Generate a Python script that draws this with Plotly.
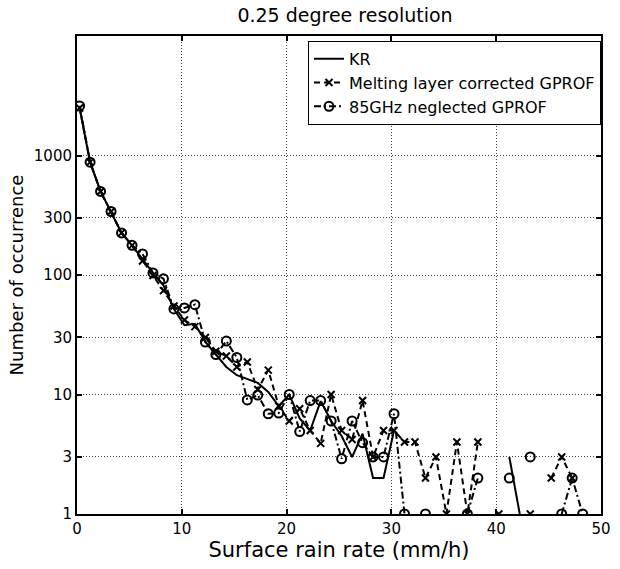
import plotly.graph_objects as go

# Surface rain rate bins (mm/h)
rain_rate = [0.25, 1.25, 2.25, 3.25, 4.25, 5.25, 6.25, 7.25, 8.25, 9.25,
             10.25, 11.25, 12.25, 13.25, 14.25, 15.25, 16.25, 17.25, 18.25, 19.25,
             20.25, 21.25, 22.25, 23.25, 24.25, 25.25, 26.25, 27.25, 28.25, 29.25,
             30.25, 31.25, 32.25, 33.25, 34.25, 35.25, 36.25, 37.25, 38.25, 39.25,
             40.25, 41.25, 42.25, 43.25, 44.25, 45.25, 46.25, 47.25, 48.25, 49.25]

kr = [2500, 880, 500, 340, 225, 177, 135, 104, 82, 52,
      38, 39, 27.5, 21.6, 17, 14.5, 13.5, 12.5, 10.5, 8,
      10, 6.3, 5, 8.8, 6, 4.5, 3, 4.7, 2, 2,
      5, None, None, None, None, None, None, None, None, None,
      None, 3, 1, None, None, None, None, None, None, None]

melting_corrected = [2500, 880, 500, 340, 225, 177, 131, 99, 74, 55,
                     42, 37, 30, 23, 21, 17, 18.7, 11, 16, 8,
                     6, 7.6, 5, 3.9, 10, 5, 4.2, 8.9, 3, 5,
                     5, 4, 4, 2, 3, 1, 4, 1, 4, None,
                     1, None, None, 1, None, 2, 3, 2, None, None]

ghz85_neglected = [2600, 880, 500, 340, 225, 177, 150, 104, 93, 52,
                   53, 56.5, 27.5, 21.6, 28, 20.4, 9, 9.9, 6.9, 7,
                   10, 4.9, 8.9, 8.9, 6, 2.9, 6, 3.95, 3, 3,
                   6.9, 1, None, 1, None, None, None, 1, 2, None,
                   None, 2, None, 3, None, None, 1, 2, 1, None]

y_tick_vals = [1, 3, 10, 30, 100, 300, 1000]
y_tick_text = ["1", "3", "10", "30", "100", "300", "1000"]
x_tick_vals = [0, 10, 20, 30, 40, 50]

FONT = "DejaVu Sans"

fig = go.Figure()
fig.add_trace(go.Scatter(
    x=rain_rate, y=kr, name="KR", mode="lines",
    line=dict(color="black", width=2), connectgaps=False))
fig.add_trace(go.Scatter(
    x=rain_rate, y=melting_corrected, name="Melting layer corrected GPROF",
    mode="lines+markers",
    line=dict(color="black", width=2, dash="6px,4px"),
    marker=dict(symbol="x-thin", size=7, color="black",
                line=dict(color="black", width=2)),
    connectgaps=False))
fig.add_trace(go.Scatter(
    x=rain_rate, y=ghz85_neglected, name="85GHz neglected GPROF",
    mode="lines+markers",
    line=dict(color="black", width=2, dash="7px,3px,2px,3px"),
    marker=dict(symbol="circle-open", size=9, color="black",
                line=dict(color="black", width=2)),
    connectgaps=False))

axis_common = dict(
    showline=True, linecolor="black", linewidth=2, mirror="ticks",
    ticks="inside", ticklen=5, tickwidth=1.5, tickcolor="black",
    showgrid=True, gridcolor="#444444", gridwidth=1, griddash="1px,2px",
    zeroline=False,
    tickfont=dict(family=FONT, size=15, color="black"),
)

fig.update_xaxes(
    range=[0, 50], tickvals=x_tick_vals,
    title=dict(text="Surface rain rate (mm/h)",
               font=dict(family=FONT, size=21, color="black"), standoff=4),
    **axis_common)
fig.update_yaxes(
    type="log", range=[0, 4], tickvals=y_tick_vals, ticktext=y_tick_text,
    title=dict(text="Number of occurrence",
               font=dict(family=FONT, size=18, color="black"), standoff=6),
    **axis_common)

fig.update_layout(
    width=620, height=569,
    margin=dict(l=77, r=9, t=36, b=55),
    paper_bgcolor="white", plot_bgcolor="white",
    title=dict(text="0.25 degree resolution", x=0.5565, xanchor="center",
               y=1 - 15 / 569, yanchor="middle",
               font=dict(family=FONT, size=19, color="black")),
    legend=dict(x=1, y=0.99, xanchor="right", yanchor="top",
                bgcolor="white", bordercolor="black", borderwidth=1,
                font=dict(family=FONT, size=16, color="black"),
                tracegroupgap=0, itemwidth=30),
    showlegend=True,
)

fig.write_html("out.html")
